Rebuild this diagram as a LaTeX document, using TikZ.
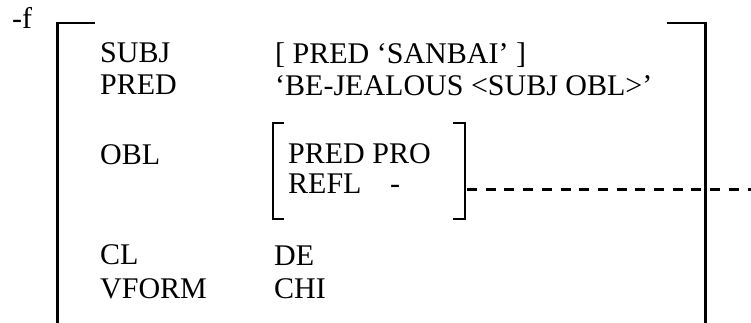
\documentclass[tikz,border=0pt]{standalone}
\usepackage{fontspec}
\setmainfont{Liberation Serif}

\begin{document}
\begin{tikzpicture}[x=1pt,y=-1pt,
    attr/.style={anchor=base west, inner sep=0pt, font=\fontsize{30}{32}\selectfont},
    tick/.style={line width=2pt},
    bar/.style={line width=3pt},
    link/.style={line width=3pt, dash pattern=on 10pt off 8.7pt}]
    \useasboundingbox (0,0) rectangle (751,322);

    % Label of the f-structure
    \node[attr] (flabel) at (12,28) {-f};

    % Outer bracket (runs off the bottom)
    \draw[bar] (57,22) -- (57,330);
    \draw[tick] (56,23) -- (95,23);
    \draw[bar] (705,22) -- (705,330);
    \draw[tick] (667,23) -- (706,23);

    % Attributes
    \node[attr] (subj)  at (100,62)  {SUBJ};
    \node[attr] (pred)  at (100,94)  {PRED};
    \node[attr] (obl)   at (100,164) {OBL};
    \node[attr] (cl)    at (100,264) {CL};
    \node[attr] (vform) at (100,298) {VFORM};

    % Values
    \node[attr] (subjv)  at (275,63)  {[ PRED `SANBAI' ]};
    \node[attr] (predv)  at (275,95)  {`BE-JEALOUS <SUBJ OBL>'};
    \node[attr] (clv)    at (274,265) {DE};
    \node[attr] (vformv) at (274,298) {CHI};

    % Inner f-structure of OBL
    \node[attr] (oblpred) at (288,163) {PRED PRO};
    \node[attr] (oblrefl) at (288,193) {REFL};
    \node[attr] (reflv)   at (390,193) {-};
    \draw[tick] (284,123) -- (273,123) -- (273,219) -- (284,219);
    \draw[tick] (453,123) -- (465,123) -- (465,219) -- (453,219);

    % Dashed link from the inner bracket
    \coordinate (oblR) at (467,189);
    \coordinate (away) at (751,189);
    \draw[link] (oblR) -- (away);
\end{tikzpicture}
\end{document}
